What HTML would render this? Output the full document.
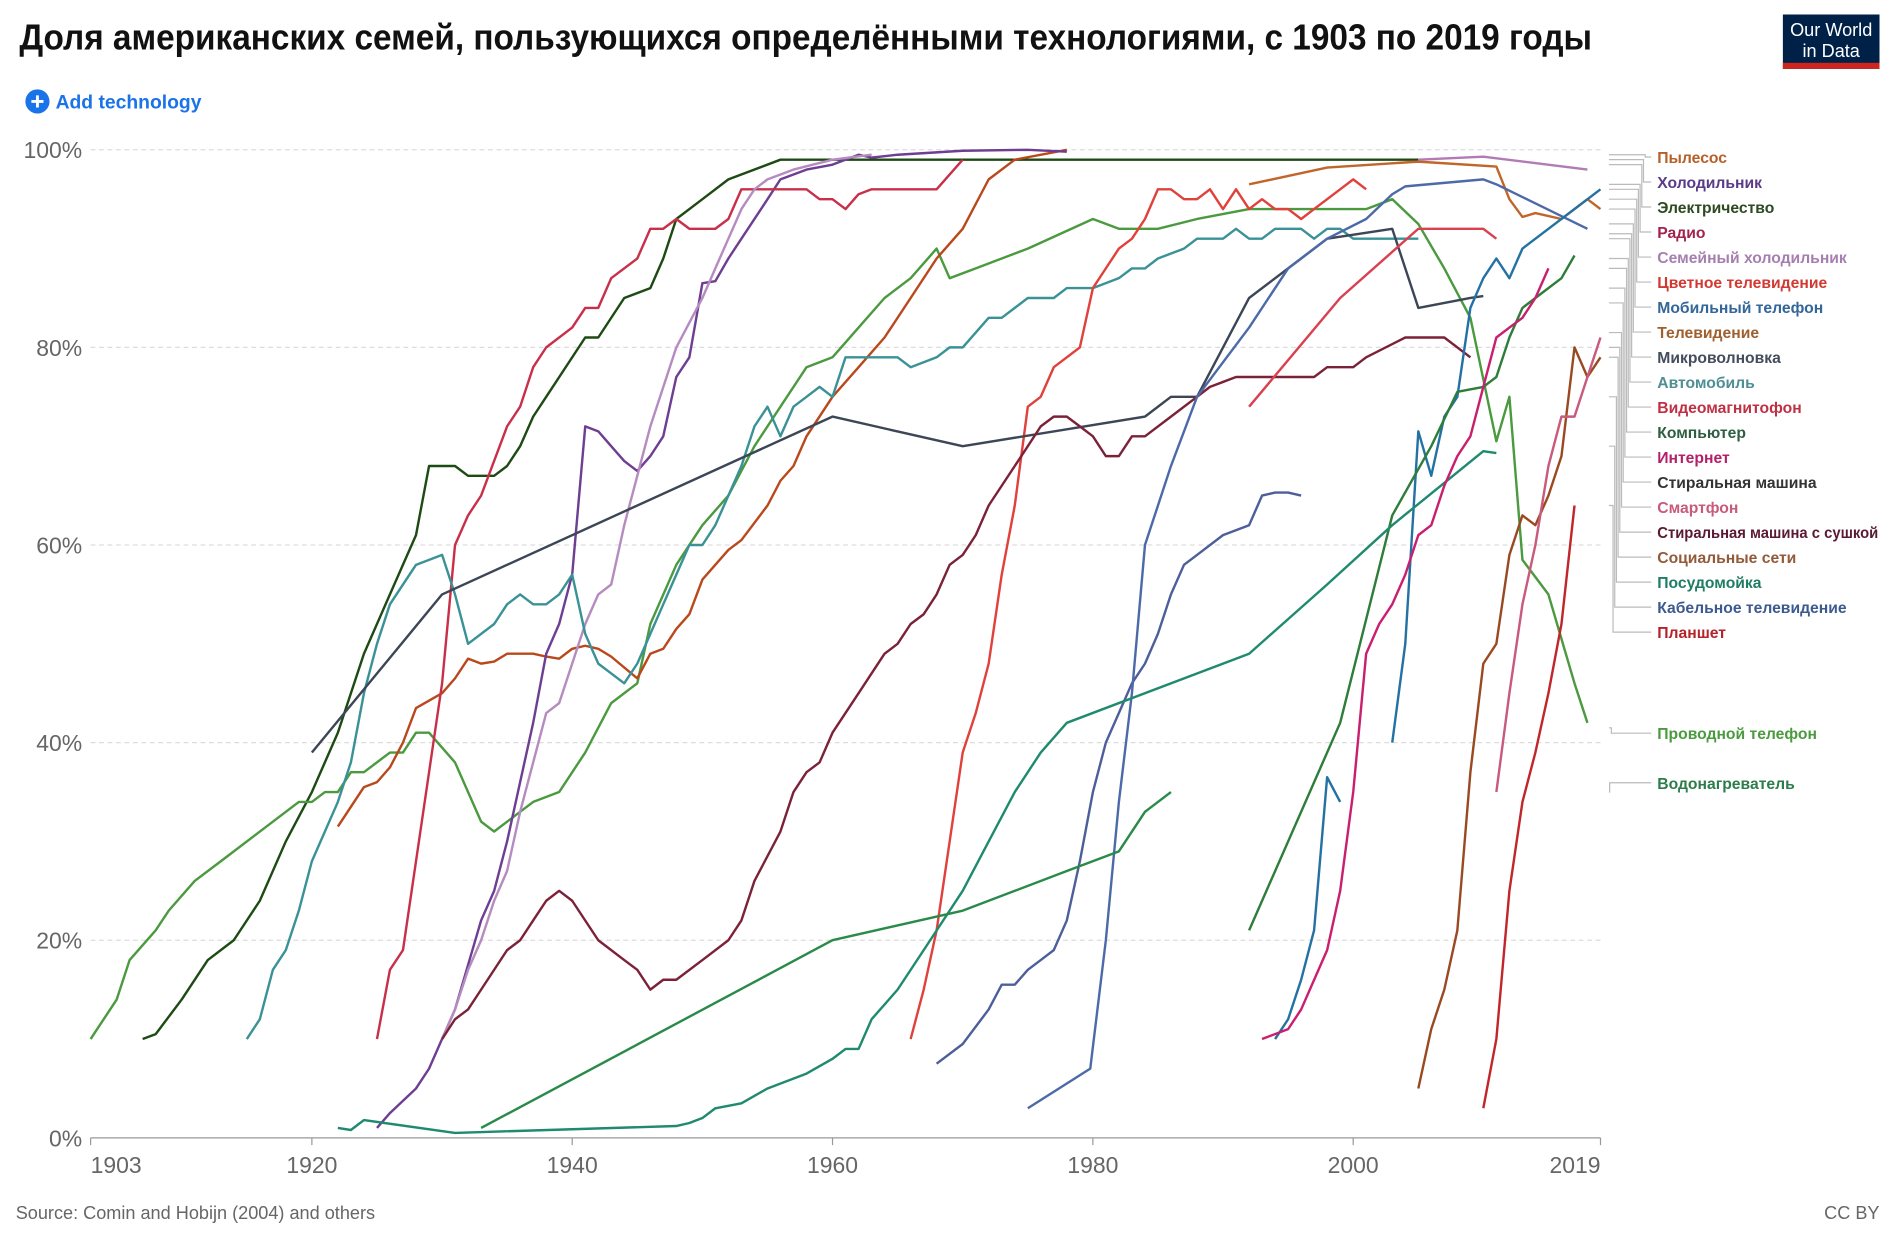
<!DOCTYPE html>
<html><head><meta charset="utf-8"><style>
html,body{margin:0;padding:0;background:#fff}
svg{display:block}
text{font-family:"Liberation Sans","DejaVu Sans",sans-serif}
</style></head><body>
<svg id="s" width="1894" height="1234" viewBox="0 0 1568 1021.6" xmlns="http://www.w3.org/2000/svg">
<rect width="1568" height="1022" fill="#fff"/>
<text x="16" y="41" font-size="30" font-weight="bold" fill="#111" textLength="1302" lengthAdjust="spacingAndGlyphs">Доля американских семей, пользующихся определёнными технологиями, с 1903 по 2019 годы</text>
<rect x="1476" y="12" width="80" height="45" fill="#002147"/>
<rect x="1476" y="52" width="80" height="5" fill="#ce261e"/>
<text x="1516" y="30" font-size="15" fill="#fff" text-anchor="middle">Our World</text>
<text x="1516" y="47" font-size="15" fill="#fff" text-anchor="middle">in Data</text>
<circle cx="31" cy="84" r="10" fill="#1a73e8"/>
<path d="M26 84h10M31 79v10" stroke="#fff" stroke-width="2.4"/>
<text x="46" y="90" font-size="16" font-weight="bold" fill="#1a73e8">Add technology</text>
<g id="grid"></g>
<g id="lines" fill="none" stroke-width="2" stroke-linejoin="round"></g>
<g id="leg"></g>
<text x="13" y="1009" font-size="15" fill="#666">Source: Comin and Hobijn (2004) and others</text>
<text x="1556" y="1009" font-size="15" fill="#666" text-anchor="end">CC BY</text>
</svg>
<script>
const NS="http://www.w3.org/2000/svg";
function el(t,a,p,txt){const e=document.createElementNS(NS,t);for(const k in a)e.setAttribute(k,a[k]);if(txt)e.textContent=txt;p.appendChild(e);return e;}
const X=y=>75+(y-1903)*10.776, Y=v=>942-8.18*v;
const g=document.getElementById('grid');
[0,20,40,60,80,100].forEach(v=>{
 if(v>0)el('line',{x1:75,x2:1325,y1:Y(v),y2:Y(v),stroke:'#ddd','stroke-dasharray':'4,3'},g);
 el('text',{x:68,y:Y(v)+7,'font-size':19,fill:'#666','text-anchor':'end'},g,v+'%');
});
el('line',{x1:75,x2:1325,y1:942,y2:942,stroke:'#999'},g);
[[1903,'start'],[1920,'middle'],[1940,'middle'],[1960,'middle'],[1980,'middle'],[2000,'middle'],[2019,'end']].forEach(([yr,a])=>{
 el('line',{x1:X(yr),x2:X(yr),y1:942,y2:948,stroke:'#999'},g);
 el('text',{x:X(yr),y:971,'font-size':19,fill:'#666','text-anchor':a},g,yr);
});
const S=[
['#1e4a14',[1907,10,1908,10.5,1910,14,1912,18,1914,20,1916,24,1918,30,1920,35,1922,41,1924,49,1926,55,1928,61,1929,68,1931,68,1932,67,1934,67,1935,68,1936,70,1937,73,1938,75,1941,81,1942,81,1944,85,1946,86,1947,89,1948,93,1950,95,1952,97,1956,99,2005,99]],
['#4b9a3f',[1903,10,1905,14,1906,18,1908,21,1909,23,1911,26,1913,28,1919,34,1920,34,1921,35,1922,35,1923,37,1924,37,1926,39,1927,39,1928,41,1929,41,1931,38,1933,32,1934,31,1936,33,1937,34,1939,35,1941,39,1943,44,1945,46,1946,52,1948,58,1950,62,1952,65,1954,70,1956,74,1958,78,1960,79,1962,82,1964,85,1966,87,1968,90,1969,87,1971,88,1975,90,1980,93,1982,92,1985,92,1988,93,1992,94,2001,94,2003,95,2005,92.5,2007,88,2009,83,2011,70.5,2012,75,2013,58.5,2015,55,2017,46,2018,42]],
['#b9491c',[1922,31.5,1924,35.5,1925,36,1926,37.5,1927,40,1928,43.5,1930,45,1931,46.5,1932,48.5,1933,48,1934,48.2,1935,49,1937,49,1938,48.7,1939,48.5,1940,49.5,1941,49.8,1942,49.5,1943,48.7,1945,46.5,1946,49,1947,49.5,1948,51.5,1949,53,1950,56.5,1951,58,1952,59.5,1953,60.5,1955,64,1956,66.5,1957,68,1958,71,1960,75,1962,78,1964,81,1966,85,1968,89,1970,92,1972,97,1974,99,1978,100]],
['#c1662a',[1992,96.5,1998,98.2,2005,98.8,2011,98.3,2012,95,2013,93.2,2014,93.6,2016,93,2018,95,2019,94]],
['#b27bb5',[2005,99,2010,99.3,2018,98]],
['#6d3e91',[1925,1,1926,2.5,1928,5,1929,7,1931,13,1933,22,1934,25,1935,30,1937,42,1938,49,1939,52,1940,57,1941,72,1942,71.5,1943,70,1944,68.5,1945,67.5,1946,69,1947,71,1948,77,1949,79,1950,86.5,1951,86.7,1952,89,1953,91,1955,95,1956,97,1958,98,1960,98.5,1962,99.5,1963,99.2,1965,99.5,1970,99.9,1975,100,1978,99.8]],
['#c8304a',[1925,10,1926,17,1927,19,1928,28,1930,46,1931,60,1932,63,1933,65,1935,72,1936,74,1937,78,1938,80,1940,82,1941,84,1942,84,1943,87,1945,89,1946,92,1947,92,1948,93,1949,92,1951,92,1952,93,1953,96,1958,96,1959,95,1960,95,1961,94,1962,95.5,1963,96,1968,96,1970,99]],
['#b58bc0',[1930,10,1931,13,1932,17,1933,20,1934,24,1935,27,1936,33,1937,38,1938,43,1939,44,1940,48,1941,52,1942,55,1943,56,1944,62,1945,67,1946,72,1948,80,1950,85,1951,88,1952,91,1953,94,1954,96,1955,97,1957,98,1960,99,1963,99.5]],
['#3a9296',[1915,10,1916,12,1917,17,1918,19,1919,23,1920,28,1922,34,1923,38,1924,45,1925,50,1926,54,1928,58,1930,59,1931,55,1932,50,1934,52,1935,54,1936,55,1937,54,1938,54,1939,55,1940,57,1941,51,1942,48,1943,47,1944,46,1945,48,1946,51,1947,54,1948,57,1949,60,1950,60,1951,62,1952,65,1953,68,1954,72,1955,74,1956,71,1957,74,1958,75,1959,76,1960,75,1961,79,1965,79,1966,78,1968,79,1969,80,1970,80,1972,83,1973,83,1975,85,1977,85,1978,86,1980,86,1982,87,1983,88,1984,88,1985,89,1987,90,1988,91,1990,91,1991,92,1992,91,1993,91,1994,92,1996,92,1997,91,1998,92,1999,92,2000,91,2005,91]],
['#e0413b',[1966,10,1967,15,1968,21,1969,30,1970,39,1971,43,1972,48,1973,57,1974,64,1975,74,1976,75,1977,78,1978,79,1979,80,1980,86,1981,88,1982,90,1983,91,1984,93,1985,96,1986,96,1987,95,1988,95,1989,96,1990,94,1991,96,1992,94,1993,95,1994,94,1995,94,1996,93,1997,94,1998,95,1999,96,2000,97,2001,96]],
['#3c4656',[1920,39,1930,55,1960,73,1970,70,1984,73,1986,75,1988,75,1992,85,1996,89,1998,91,2003,92,2005,84,2009,85,2010,85.2]],
['#7b2238',[1930,10,1931,12,1932,13,1933,15,1935,19,1936,20,1937,22,1938,24,1939,25,1940,24,1942,20,1944,18,1945,17,1946,15,1947,16,1948,16,1950,18,1952,20,1953,22,1954,26,1956,31,1957,35,1958,37,1959,38,1960,41,1962,45,1964,49,1965,50,1966,52,1967,53,1968,55,1969,58,1970,59,1971,61,1972,64,1974,68,1975,70,1976,72,1977,73,1978,73,1979,72,1980,71,1981,69,1982,69,1983,71,1984,71,1986,73,1988,75,1989,76,1990,76.5,1991,77,1997,77,1998,78,2000,78,2001,79,2004,81,2007,81,2009,79]],
['#d94050',[1992,74,1999,85,2005,92,2010,92,2011,91]],
['#4d5f9a',[1968,7.5,1970,9.5,1972,13,1973,15.5,1974,15.5,1975,17,1976,18,1977,19,1978,22,1979,28,1980,35,1981,40,1982,43,1983,46,1984,48,1985,51,1986,55,1987,58,1988,59,1990,61,1992,62,1993,65,1994,65.3,1995,65.3,1996,65]],
['#4d6aa8',[1975,3,1979.8,7,1981,20,1982,34,1983,45,1984,60,1986,68,1988,75,1992,82,1995,88,1998,91,2001,93,2003,95.5,2004,96.3,2010,97,2011,96.5,2018,92]],
['#2471a3',[1994,10,1995,12,1996,16,1997,21,1998,36.5,1999,34]],
['#2471a3',[2003,40,2004,50,2005,71.5,2006,67,2007,73,2008,75,2009,84,2010,87,2011,89,2012,87,2013,90,2019,96]],
['#2e7d3a',[1992,21,1999,42,2003,63,2006,70,2008,75.5,2010,76,2011,77,2012,81,2013,84,2014,85,2016,87,2017,89.3]],
['#1f8a6e',[1922,1,1923,0.8,1924,1.8,1931,0.5,1948,1.2,1949,1.5,1950,2,1951,3,1953,3.5,1955,5,1958,6.5,1960,8,1961,9,1962,9,1963,12,1965,15,1967,19,1970,25,1972,30,1974,35,1976,39,1978,42,1992,49,1998,56,2003,62,2010,69.5,2011,69.3]],
['#2a8a4a',[1933,1,1960,20,1970,23,1978,27,1982,29,1984,33,1986,35]],
['#c81f6e',[1993,10,1995,11,1996,13,1998,19,1999,25,2000,35,2001,49,2002,52,2003,54,2004,57,2005,61,2006,62,2007,66,2008,69,2009,71,2010,76,2011,81,2012,82,2013,83,2014,85,2015,88]],
['#9a4a22',[2005,5,2006,11,2007,15,2008,21,2009,37,2010,48,2011,50,2012,59,2013,63,2014,62,2015,65,2016,69,2017,80,2018,77,2019,79]],
['#c85a7c',[2011,35,2012,45,2013,54,2014,60,2015,68,2016,73,2017,73,2018,77,2019,81]],
['#c0262a',[2010,3,2011,10,2012,25,2013,34,2014,39,2015,45,2016,52,2017,64]]
];
const L=document.getElementById('lines');
S.forEach(([c,d])=>{if(!d.length)return;let p=[];for(let i=0;i<d.length;i+=2)p.push(X(d[i]).toFixed(1)+','+Y(d[i+1]).toFixed(1));el('polyline',{points:p.join(' '),stroke:c},L);});
const leg=[['Пылесос','#b4612a',99.5],['Холодильник','#5b3b87',99],['Электричество','#2d4a22',98.5],['Радио','#a2234c',96.5],['Семейный холодильник','#a67fb0',96],['Цветное телевидение','#d13a32',95],['Мобильный телефон','#336699',94],['Телевидение','#a0602e',92.5],['Микроволновка','#444d5c',91.5],['Автомобиль','#4e8f93',91],['Видеомагнитофон','#c03045',89],['Компьютер','#2e5f42',88],['Интернет','#b41f6a',86],['Стиральная машина','#333',84.5],['Смартфон','#c85a7c',81.5],['Стиральная машина с сушкой','#5a1a33',80],['Социальные сети','#935a3a',79],['Посудомойка','#1f7d64',75],['Кабельное телевидение','#3d5a8f',70],['Планшет','#b5232a',64],['Проводной телефон','#4b9a3f',41.5],['Водонагреватель','#2d7d4a',35]];
const G=document.getElementById('leg');
leg.forEach(([n,c,v],i)=>{
 const ly=i<20?130+i*20.7:(i==20?607:648);
 const ey=Y(v);const xv=1362-i*1.4;
 el('polyline',{points:`1332,${ey} ${xv},${ey} ${xv},${ly} 1367,${ly}`,fill:'none',stroke:'#bbb','stroke-width':1},G);
 const a={x:1372,y:ly+5,'font-size':13,'font-weight':'bold',fill:c};
 if(n.length>22){a.textLength=183;a.lengthAdjust='spacingAndGlyphs';}
 el('text',a,G,n);
});
</script>
</body></html>
